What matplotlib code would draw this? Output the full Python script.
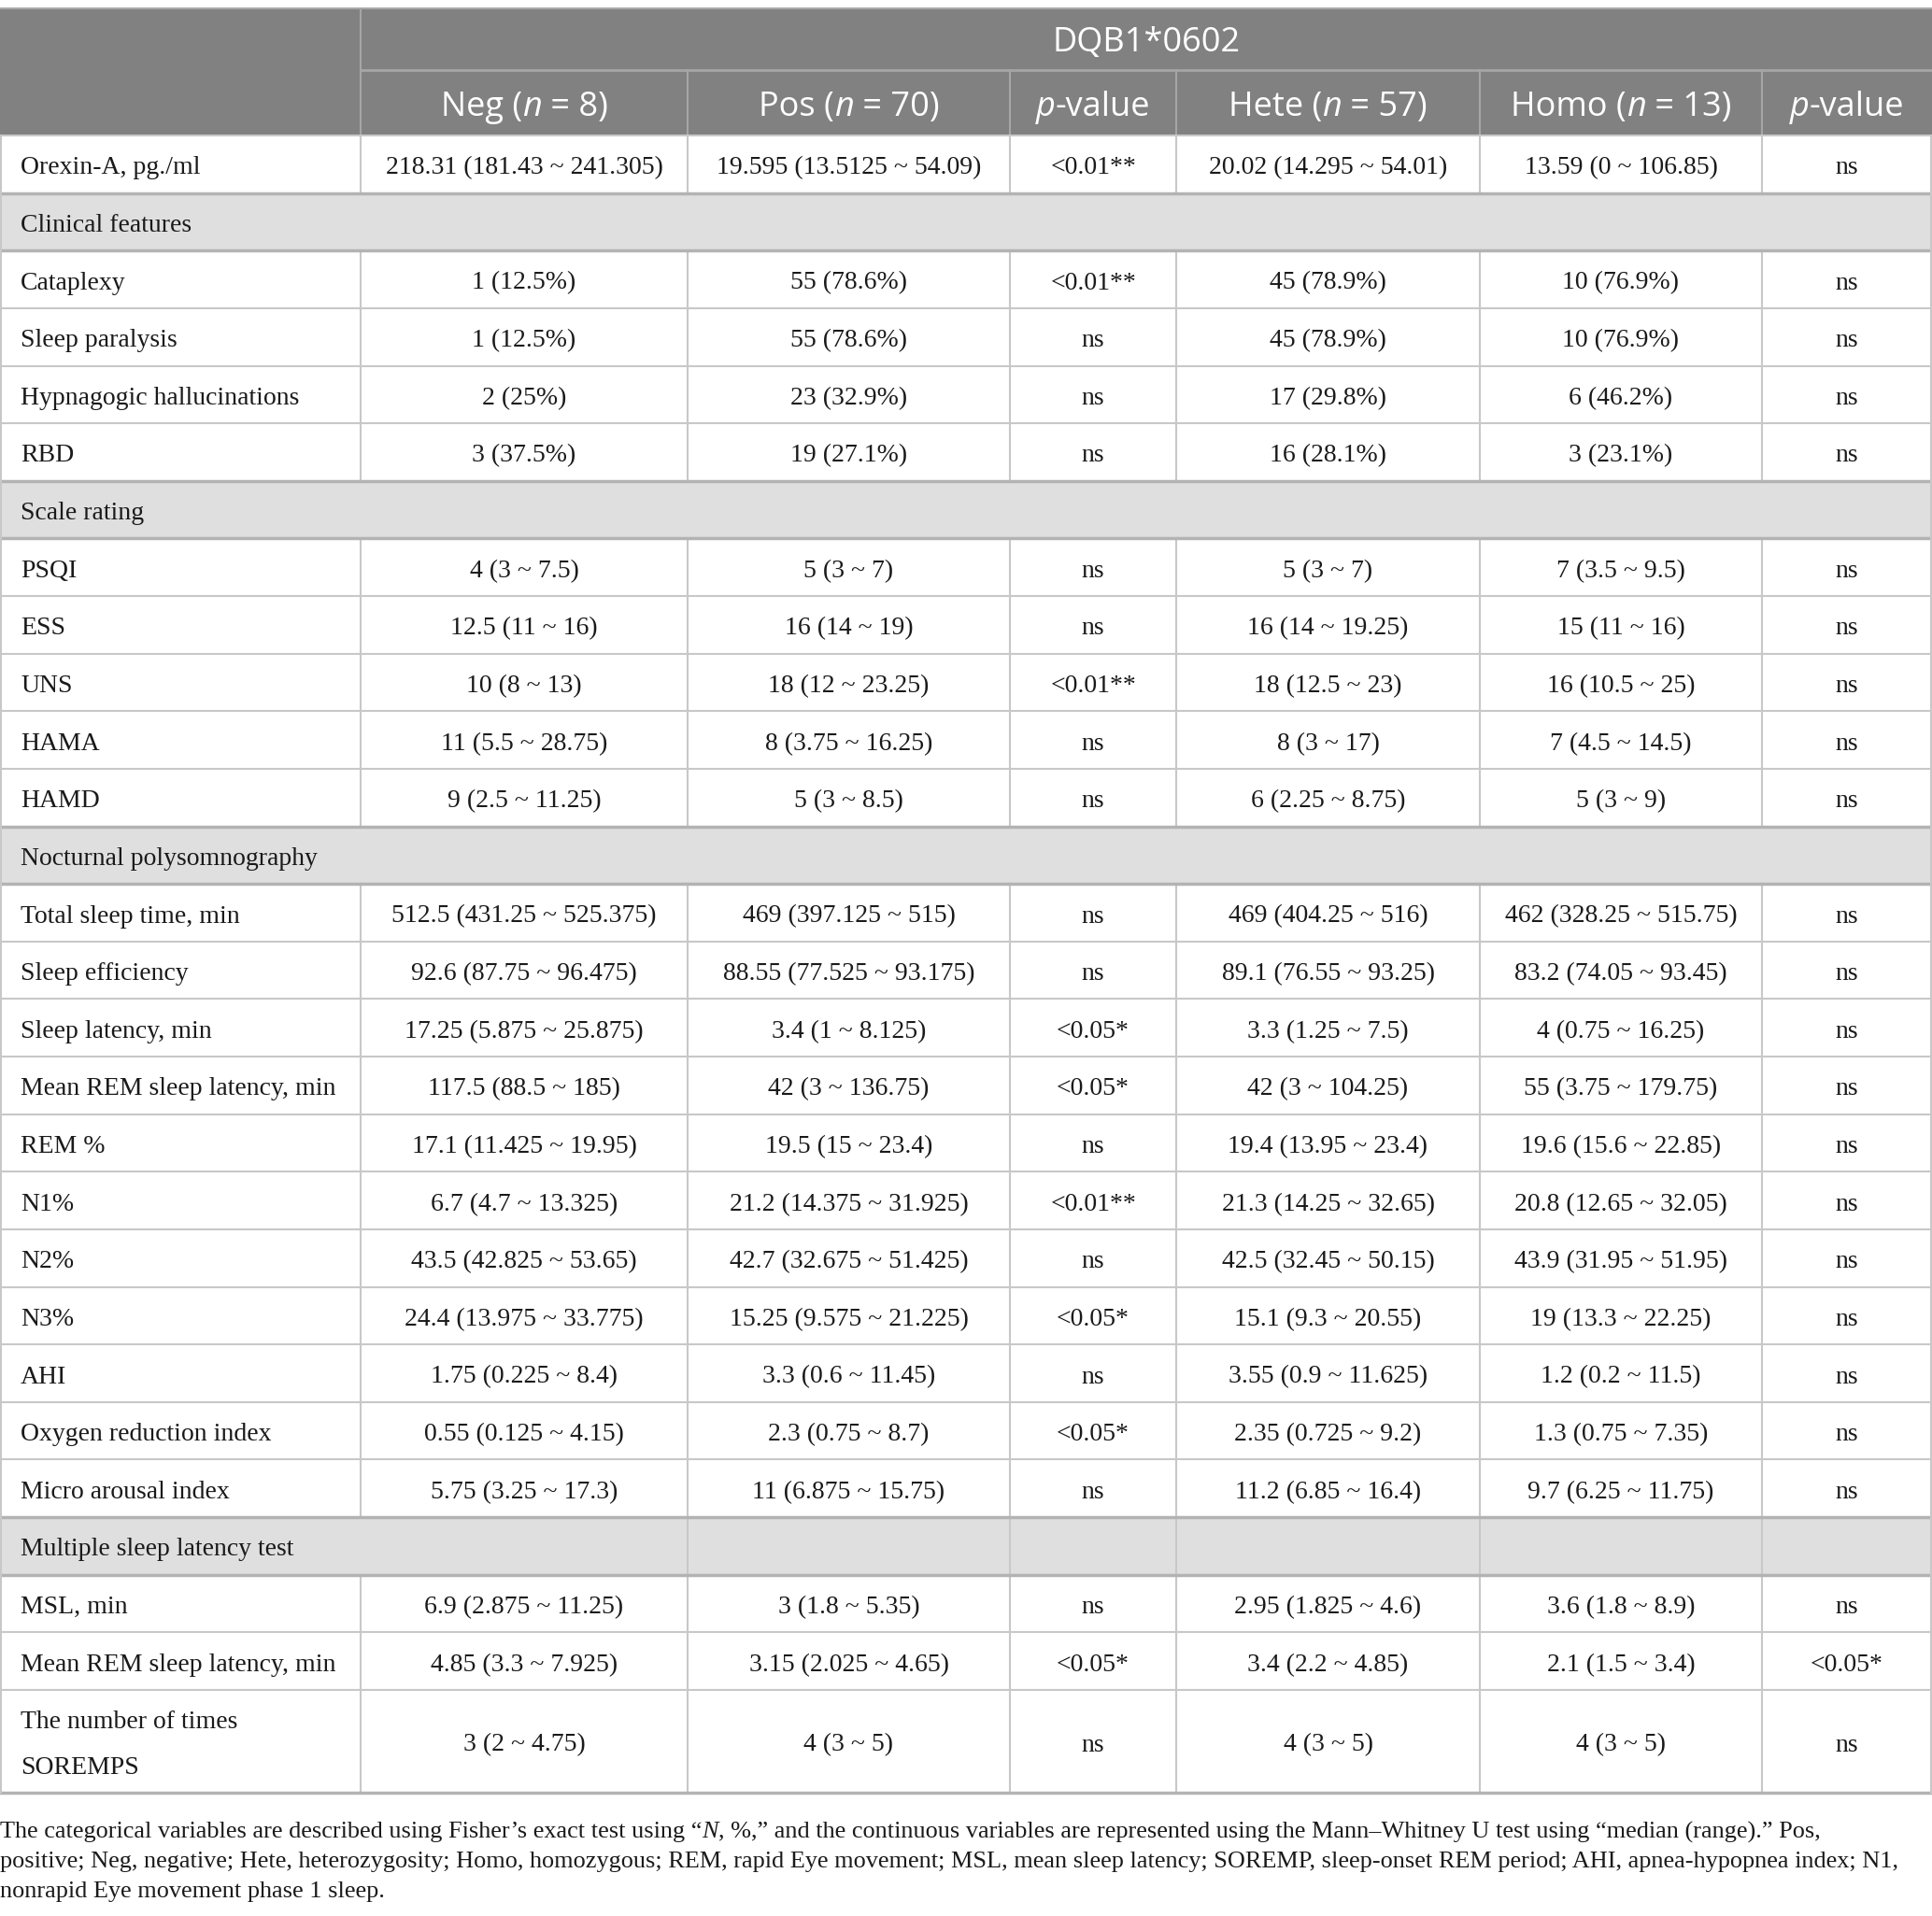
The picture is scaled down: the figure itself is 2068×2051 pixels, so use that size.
import matplotlib
matplotlib.use("Agg")
import matplotlib.pyplot as plt
from matplotlib.patches import Rectangle

# table content, row by row (None = section heading row)
row_labels = ["Orexin-A, pg./ml", "Clinical features", "Cataplexy", "Sleep paralysis",
              "Hypnagogic hallucinations", "RBD", "Scale rating", "PSQI", "ESS", "UNS",
              "HAMA", "HAMD", "Nocturnal polysomnography", "Total sleep time, min",
              "Sleep efficiency", "Sleep latency, min", "Mean REM sleep latency, min",
              "REM %", "N1%", "N2%", "N3%", "AHI", "Oxygen reduction index",
              "Micro arousal index", "Multiple sleep latency test", "MSL, min",
              "Mean REM sleep latency, min", "The number of times\nSOREMPS"]

neg_vals = ["218.31 (181.43 ~ 241.305)", None, "1 (12.5%)", "1 (12.5%)", "2 (25%)", "3 (37.5%)",
            None, "4 (3 ~ 7.5)", "12.5 (11 ~ 16)", "10 (8 ~ 13)", "11 (5.5 ~ 28.75)",
            "9 (2.5 ~ 11.25)", None, "512.5 (431.25 ~ 525.375)", "92.6 (87.75 ~ 96.475)",
            "17.25 (5.875 ~ 25.875)", "117.5 (88.5 ~ 185)", "17.1 (11.425 ~ 19.95)",
            "6.7 (4.7 ~ 13.325)", "43.5 (42.825 ~ 53.65)", "24.4 (13.975 ~ 33.775)",
            "1.75 (0.225 ~ 8.4)", "0.55 (0.125 ~ 4.15)", "5.75 (3.25 ~ 17.3)", None,
            "6.9 (2.875 ~ 11.25)", "4.85 (3.3 ~ 7.925)", "3 (2 ~ 4.75)"]

pos_vals = ["19.595 (13.5125 ~ 54.09)", None, "55 (78.6%)", "55 (78.6%)", "23 (32.9%)",
            "19 (27.1%)", None, "5 (3 ~ 7)", "16 (14 ~ 19)", "18 (12 ~ 23.25)",
            "8 (3.75 ~ 16.25)", "5 (3 ~ 8.5)", None, "469 (397.125 ~ 515)",
            "88.55 (77.525 ~ 93.175)", "3.4 (1 ~ 8.125)", "42 (3 ~ 136.75)",
            "19.5 (15 ~ 23.4)", "21.2 (14.375 ~ 31.925)", "42.7 (32.675 ~ 51.425)",
            "15.25 (9.575 ~ 21.225)", "3.3 (0.6 ~ 11.45)", "2.3 (0.75 ~ 8.7)",
            "11 (6.875 ~ 15.75)", None, "3 (1.8 ~ 5.35)", "3.15 (2.025 ~ 4.65)", "4 (3 ~ 5)"]

p_neg_pos = ["<0.01**", None, "<0.01**", "ns", "ns", "ns", None, "ns", "ns", "<0.01**",
             "ns", "ns", None, "ns", "ns", "<0.05*", "<0.05*", "ns", "<0.01**", "ns",
             "<0.05*", "ns", "<0.05*", "ns", None, "ns", "<0.05*", "ns"]

hete_vals = ["20.02 (14.295 ~ 54.01)", None, "45 (78.9%)", "45 (78.9%)", "17 (29.8%)",
             "16 (28.1%)", None, "5 (3 ~ 7)", "16 (14 ~ 19.25)", "18 (12.5 ~ 23)",
             "8 (3 ~ 17)", "6 (2.25 ~ 8.75)", None, "469 (404.25 ~ 516)",
             "89.1 (76.55 ~ 93.25)", "3.3 (1.25 ~ 7.5)", "42 (3 ~ 104.25)",
             "19.4 (13.95 ~ 23.4)", "21.3 (14.25 ~ 32.65)", "42.5 (32.45 ~ 50.15)",
             "15.1 (9.3 ~ 20.55)", "3.55 (0.9 ~ 11.625)", "2.35 (0.725 ~ 9.2)",
             "11.2 (6.85 ~ 16.4)", None, "2.95 (1.825 ~ 4.6)", "3.4 (2.2 ~ 4.85)", "4 (3 ~ 5)"]

homo_vals = ["13.59 (0 ~ 106.85)", None, "10 (76.9%)", "10 (76.9%)", "6 (46.2%)",
             "3 (23.1%)", None, "7 (3.5 ~ 9.5)", "15 (11 ~ 16)", "16 (10.5 ~ 25)",
             "7 (4.5 ~ 14.5)", "5 (3 ~ 9)", None, "462 (328.25 ~ 515.75)",
             "83.2 (74.05 ~ 93.45)", "4 (0.75 ~ 16.25)", "55 (3.75 ~ 179.75)",
             "19.6 (15.6 ~ 22.85)", "20.8 (12.65 ~ 32.05)", "43.9 (31.95 ~ 51.95)",
             "19 (13.3 ~ 22.25)", "1.2 (0.2 ~ 11.5)", "1.3 (0.75 ~ 7.35)",
             "9.7 (6.25 ~ 11.75)", None, "3.6 (1.8 ~ 8.9)", "2.1 (1.5 ~ 3.4)", "4 (3 ~ 5)"]

p_hete_homo = ["ns", None, "ns", "ns", "ns", "ns", None, "ns", "ns", "ns", "ns", "ns",
               None, "ns", "ns", "ns", "ns", "ns", "ns", "ns", "ns", "ns", "ns", "ns",
               None, "ns", "<0.05*", "ns"]

group_title = "DQB1*0602"
col_heads = [[("Neg (", "n"), ("n", "i"), (" = 8)", "n")],
             [("Pos (", "n"), ("n", "i"), (" = 70)", "n")],
             [("p", "i"), ("-value", "n")],
             [("Hete (", "n"), ("n", "i"), (" = 57)", "n")],
             [("Homo (", "n"), ("n", "i"), (" = 13)", "n")],
             [("p", "i"), ("-value", "n")]]

footnote = [
    [("The categorical variables are described using Fisher\u2019s exact test using \u201c", "n"),
     ("N", "i"),
     (", %,\u201d and the continuous variables are represented using the Mann\u2013Whitney U test using \u201cmedian (range).\u201d Pos,", "n")],
    [("positive; Neg, negative; Hete, heterozygosity; Homo, homozygous; REM, rapid Eye movement; "
      "MSL, mean sleep latency; SOREMP, sleep-onset REM period; AHI, apnea-hypopnea index; N1,", "n")],
    [("nonrapid Eye movement phase 1 sleep.", "n")],
]

# layout (pixels)
W, H = 2068, 2051
col_edges = [0, 386, 736, 1081, 1259, 1584, 1886, 2068]
top, mid, head_bot = 9, 75, 145
row_h = 61.63
last_h = 110

HEAD_BG = "#808180"
SEC_BG = "#e0dfe0"
GRID = "#c8c8c8"
SEC_LINE = "#b3b3b3"
TXT = "#1a1a1a"
SERIF = "Liberation Serif"
SANS = "Open Sans"

fig = plt.figure(figsize=(W / 100, H / 100), dpi=100)
ax = fig.add_axes([0, 0, 1, 1])
ax.set_xlim(0, W)
ax.set_ylim(H, 0)
ax.axis("off")
renderer = fig.canvas.get_renderer()


def seg_text(x, y, parts, family, size, color, ha="center"):
    texts = []
    for s, st in parts:
        t = ax.text(x, y, s, family=family, fontsize=size, color=color,
                    style="italic" if st == "i" else "normal", va="center", ha="left")
        texts.append(t)
    widths = [t.get_window_extent(renderer).width for t in texts]
    total = sum(widths)
    x0 = x - total / 2 if ha == "center" else x
    for t, w in zip(texts, widths):
        t.set_x(x0)
        x0 += w
    return total


# header block
ax.add_patch(Rectangle((0, top), W, head_bot - top, color=HEAD_BG, lw=0))
ax.plot([0, W], [top, top], color="#a9a9a9", lw=1.5)
ax.plot([col_edges[1], W], [mid, mid], color="#a6a6a6", lw=2)
ax.plot([col_edges[1], col_edges[1]], [top, head_bot], color="#a6a6a6", lw=1.5)
for xe in col_edges[2:-1]:
    ax.plot([xe, xe], [mid, head_bot], color="#a6a6a6", lw=1.5)
ax.text((col_edges[1] + W) / 2, (top + mid) / 2 + 4, group_title, family=SANS,
        fontsize=26, color="white", ha="center", va="center")
for i, parts in enumerate(col_heads):
    cx = (col_edges[i + 1] + col_edges[i + 2]) / 2
    seg_text(cx, (mid + head_bot) / 2 + 5, parts, SANS, 26, "white")

# body rows
columns = [neg_vals, pos_vals, p_neg_pos, hete_vals, homo_vals, p_hete_homo]
y = head_bot
n = len(row_labels)
for r, label in enumerate(row_labels):
    h = last_h if r == n - 1 else row_h
    section = neg_vals[r] is None
    yc = y + h / 2 + 4
    if section:
        ax.add_patch(Rectangle((0, y), W, h, color=SEC_BG, lw=0))
    # vertical separators
    if section:
        seps = col_edges[2:-1] if label.startswith("Multiple") else []
    else:
        seps = col_edges[1:-1]
    for xe in seps:
        ax.plot([xe, xe], [y, y + h], color=GRID, lw=1.5)
    ax.text(22, yc, label, family=SERIF, fontsize=20, color=TXT,
            ha="left", va="center", linespacing=2.3)
    if not section:
        for c, vals in enumerate(columns):
            cx = (col_edges[c + 1] + col_edges[c + 2]) / 2
            ax.text(cx, yc, vals[r], family=SERIF, fontsize=20, color=TXT,
                    ha="center", va="center")
    y += h

# horizontal lines
y = head_bot
for r in range(n + 1):
    prev_sec = r > 0 and neg_vals[r - 1] is None
    cur_sec = r < n and neg_vals[r] is None
    if prev_sec or cur_sec or r == n:
        ax.plot([0, W], [y, y], color=SEC_LINE, lw=2.5)
    else:
        ax.plot([0, W], [y, y], color=GRID, lw=1.5)
    if r < n:
        y += last_h if r == n - 1 else row_h
ax.plot([1, 1], [head_bot, y], color=GRID, lw=1.5)
ax.plot([W - 1, W - 1], [head_bot, y], color=GRID, lw=1.5)

# footnote, font shrunk so the longest line ends where the reference does
probe = ax.text(0, 0, footnote[1][0][0], family=SERIF, fontsize=20)
fsize = 20 * 2036 / probe.get_window_extent(renderer).width
probe.remove()
fy = y + 42
for line in footnote:
    seg_text(0, fy, line, SERIF, fsize, TXT, ha="left")
    fy += 32

fig.savefig("out.png", dpi=100)
